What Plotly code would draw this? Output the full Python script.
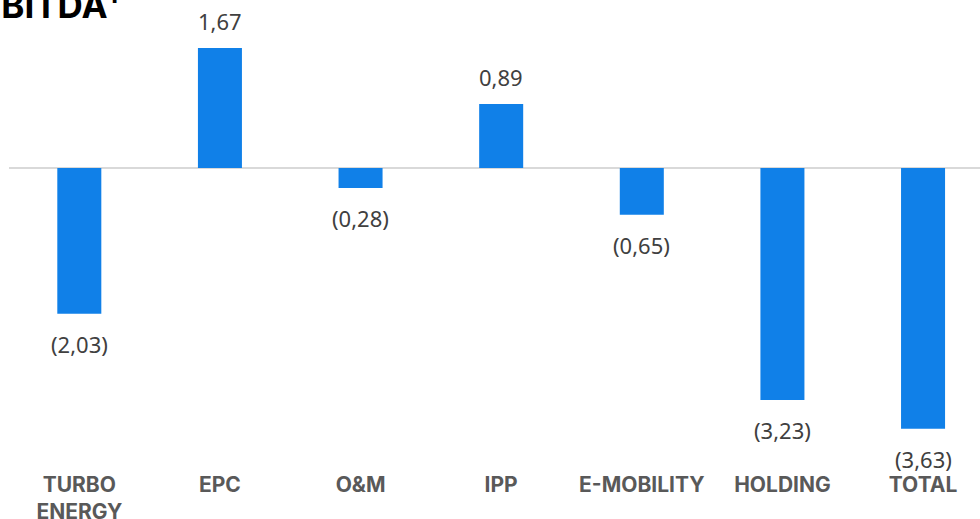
import plotly.graph_objects as go

# EBITDA by segment
categories = ["TURBO<br>ENERGY", "EPC", "O&M", "IPP", "E-MOBILITY", "HOLDING", "TOTAL"]
ebitda = [-2.03, 1.67, -0.28, 0.89, -0.65, -3.23, -3.63]
value_labels = ["(2,03)", "1,67", "(0,28)", "0,89", "(0,65)", "(3,23)", "(3,63)"]

BAR_COLOR = "#1080E8"

fig = go.Figure(go.Bar(
    x=categories,
    y=ebitda,
    marker=dict(color=BAR_COLOR, line=dict(width=0)),
    hoverinfo="skip",
))

# value labels above / below each bar
for cat, val, lab in zip(categories, ebitda, value_labels):
    fig.add_annotation(
        x=cat, y=val, text=lab, showarrow=False,
        yanchor="middle", yshift=27 if val > 0 else -30,
        font=dict(family="Noto Sans", size=22, color="#404040"),
    )

# title, partly cut off at the top-left as in the original slide
fig.add_annotation(
    xref="paper", yref="paper", x=-0.032, y=1,
    xanchor="left", yanchor="middle", yshift=-2,
    text="<b>EBITDA<sup>1</sup></b>", showarrow=False,
    font=dict(family="Inter", size=35, color="#000000"),
)

fig.update_layout(
    width=980, height=519,
    margin=dict(l=9, r=0, t=0, b=49),
    paper_bgcolor="white",
    plot_bgcolor="white",
    showlegend=False,
    bargap=0.687,
    xaxis=dict(
        range=[-0.5, 6.405], automargin=False,
        showgrid=False, showline=False, ticks="",
        tickfont=dict(family="Inter", size=21, color="#595959", weight="bold"),
    ),
    yaxis=dict(
        range=[-4.203, 2.338], automargin=False,
        showgrid=False, showticklabels=False, ticks="",
        zeroline=True, zerolinecolor="#D9D9D9", zerolinewidth=2,
    ),
)

# drop the browser's default body margin so the chart sits flush in the window
fig.write_html(
    "out.html",
    config={"displayModeBar": False},
    post_script="document.body.style.margin = '0';",
)
